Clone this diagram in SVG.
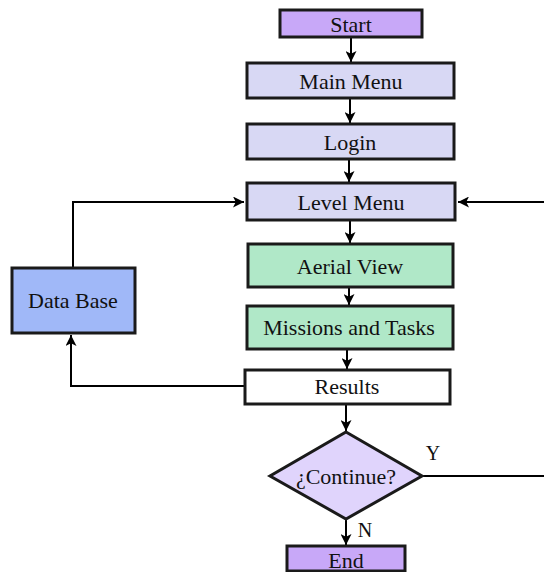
<svg xmlns="http://www.w3.org/2000/svg" width="544" height="572" viewBox="0 0 544 572">
<defs>
<marker id="ah" viewBox="0 0 10 10" refX="10" refY="5" markerWidth="11" markerHeight="11" markerUnits="userSpaceOnUse" orient="auto"><path d="M0,0 L10,5 L0,10 L2.5,5 z" fill="#000"/></marker>
<style>
.box{stroke:#1a1a1a;stroke-width:3}
text{font-family:'Liberation Serif','DejaVu Serif',serif;font-size:22px;fill:#111;text-anchor:middle;dominant-baseline:central}
.c{fill:none;stroke:#000;stroke-width:2;marker-end:url(#ah)}
.l{fill:none;stroke:#000;stroke-width:2}
</style>
</defs>
<rect width="544" height="572" fill="#fff"/>
<g id="connectors">
<path class="c" d="M351,37 V62"/>
<path class="c" d="M350,99 V123"/>
<path class="c" d="M349,159 V182"/>
<path class="c" d="M350,221 V243"/>
<path class="c" d="M349,288 V305"/>
<path class="c" d="M347,350 V369"/>
<path class="c" d="M346,404 V431"/>
<path class="c" d="M346,519 V545"/>
<path class="c" d="M245,386 H71 V335"/>
<path class="c" d="M73,267 V202 H244"/>
<path class="c" d="M544,202 H458"/>
<path class="l" d="M422,476 H544"/>
<text x="433" y="453" style="font-size:20px">Y</text>
<text x="365" y="530" style="font-size:20px">N</text>
</g>
<g id="start"><rect class="box" x="280" y="10" width="142" height="27" fill="#c8a8f8"/><text x="351" y="24">Start</text></g>
<g id="mainmenu"><rect class="box" x="247" y="63" width="207" height="35" fill="#d8d8f4"/><text x="351" y="81">Main Menu</text></g>
<g id="login"><rect class="box" x="247" y="124" width="207" height="35" fill="#d8d8f4"/><text x="350" y="142">Login</text></g>
<g id="levelmenu"><rect class="box" x="247" y="183" width="208" height="37" fill="#d8d8f4"/><text x="351" y="202">Level Menu</text></g>
<g id="aerialview"><rect class="box" x="248" y="244" width="205" height="43" fill="#b0e8c8"/><text x="350" y="266">Aerial View</text></g>
<g id="missions"><rect class="box" x="247" y="306" width="206" height="43" fill="#b0e8c8"/><text x="349" y="327">Missions and Tasks</text></g>
<g id="results"><rect class="box" x="245" y="370" width="205" height="34" fill="#fff"/><text x="347" y="386">Results</text></g>
<g id="database"><rect class="box" x="12" y="268" width="123" height="65" fill="#a0b8f8"/><text x="73" y="300">Data Base</text></g>
<g id="continue"><path class="box" d="M346,432 L422,476 L346,519 L270,476 Z" fill="#e0d4fc"/><text x="346" y="476">¿Continue?</text></g>
<g id="end"><rect class="box" x="287" y="546" width="118" height="25" fill="#c8a8f8"/><text x="346" y="560">End</text></g>
</svg>
